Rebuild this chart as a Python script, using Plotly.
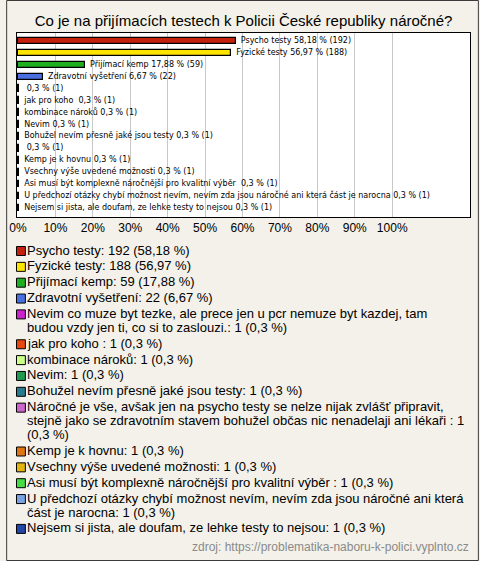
import plotly.graph_objects as go

# ---------------- data ----------------
title_text = "Co je na přijímacích testech k Policii České republiky náročné?"
bar_labels = [
    "Psycho testy", "Fyzické testy", "Přijímací kemp", "Zdravotní vyšetření", "",
    "jak pro koho ", "kombinace nároků", "Nevim", "Bohužel nevím přesně jaké jsou testy", "",
    "Kemp je k hovnu", "Vsechny výše uvedené možnosti",
    "Asi musí být komplexně náročnější pro kvalitní výběr ",
    "U předchozí otázky chybí možnost nevím, nevím zda jsou náročné ani která část je narocna",
    "Nejsem si jista, ale doufam, ze lehke testy to nejsou",
]
legend_names = [
    ["Psycho testy"], ["Fyzické testy"], ["Přijímací kemp"], ["Zdravotní vyšetření"],
    ["Nevim co muze byt tezke, ale prece jen u pcr nemuze byt kazdej, tam",
     "budou vzdy jen ti, co si to zaslouzi."],
    ["jak pro koho "], ["kombinace nároků"], ["Nevim"], ["Bohužel nevím přesně jaké jsou testy"],
    ["Náročné je vše, avšak jen na psycho testy se nelze nijak zvlášť připravit,",
     "stejně jako se zdravotním stavem bohužel občas nic nenadelaji ani lékaři : 1",
     "(0,3 %)"],
    ["Kemp je k hovnu"], ["Vsechny výše uvedené možnosti"],
    ["Asi musí být komplexně náročnější pro kvalitní výběr "],
    ["U předchozí otázky chybí možnost nevím, nevím zda jsou náročné ani která",
     "část je narocna"],
    ["Nejsem si jista, ale doufam, ze lehke testy to nejsou"],
]
counts = [192, 188, 59, 22, 1, 1, 1, 1, 1, 1, 1, 1, 1, 1, 1]
percents = [58.18, 56.97, 17.88, 6.67, 0.3, 0.3, 0.3, 0.3, 0.3, 0.3, 0.3, 0.3, 0.3, 0.3, 0.3]
colors = ["#c4200c", "#ffe400", "#1fae1f", "#4a70e0", "#cc22cc", "#e8480e", "#ccff88",
          "#1f9a50", "#287a8e", "#cc66cc", "#e07410", "#e2b412", "#44dd44", "#78a2e2", "#2446a8"]
tick_vals = [0, 10, 20, 30, 40, 50, 60, 70, 80, 90, 100]
tick_text = ["0%", "10%", "20%", "30%", "40%", "50%", "60%", "70%", "80%", "90%", "100%"]
source_text = "zdroj: https://problematika-naboru-k-polici.vyplnto.cz"

# ---------------- layout geometry ----------------
W, H = 480, 561
ML, MR, MT, MB = 11, 9, 33, 344
PW, PH = W - ML - MR, H - MT - MB


def px(x):
    return (x - ML) / PW


def py(y):
    return 1 - (y - MT) / PH


def fmt(p):
    return f"{p:g}".replace(".", ",")


rows = list(range(len(counts)))

fig = go.Figure()
fig.add_trace(go.Bar(
    x=percents, y=rows, orientation="h", width=0.55,
    marker=dict(color=colors, line=dict(color="#000000", width=1.2)),
    hoverinfo="skip", showlegend=False,
))
fig.add_trace(go.Scatter(
    x=percents, y=rows, mode="text",
    text=["  " + f"{l} {fmt(p)} % ({c})" for l, p, c in zip(bar_labels, percents, counts)],
    textposition="middle right",
    textfont=dict(family="DejaVu Sans", size=8, color="#000000"),
    hoverinfo="skip", showlegend=False, cliponaxis=False,
))

annotations = []
shapes = []
# legend (manual, wrapped)
G, L = 15.85, 14.0
y = 250.0
for i, (nm, c, p, col) in enumerate(zip(legend_names, counts, percents, colors)):
    lines = list(nm)
    if not lines[-1].startswith("("):
        lines[-1] = lines[-1] + f": {c} ({fmt(p)} %)"
    if i > 0:
        y += G
    shapes.append(dict(type="rect", xref="paper", yref="paper",
                       x0=px(10.5), x1=px(19.5), y0=py(y - 4.5 + 1), y1=py(y + 4.5 + 1),
                       fillcolor=col, line=dict(color="#000000", width=1), layer="above"))
    for k, ln in enumerate(lines):
        if k > 0:
            y += L
        annotations.append(dict(xref="paper", yref="paper", x=px(19.5), y=py(y),
                                xanchor="left", yanchor="middle", text=ln, showarrow=False,
                                font=dict(family="Liberation Sans", size=13, color="#000000")))

annotations.append(dict(xref="paper", yref="paper", x=px(472), y=py(547),
                        xanchor="right", yanchor="middle", text=source_text, showarrow=False,
                        font=dict(family="Liberation Sans", size=12, color="#8a8a8a")))

# outer frame
shapes.append(dict(type="rect", xref="paper", yref="paper",
                   x0=px(0.5), x1=px(W - 0.5), y0=py(H - 0.5), y1=py(0.5),
                   line=dict(color="#3a3a3a", width=1), fillcolor="rgba(0,0,0,0)", layer="above"))

x0 = -1 / 3.8
x1 = x0 + PW / 3.8
fig.update_layout(
    width=W, height=H,
    margin=dict(l=ML, r=MR, t=MT, b=MB, pad=0),
    paper_bgcolor="#f3f1e9", plot_bgcolor="#ffffff",
    title=dict(text=title_text, x=0.5, xanchor="center", xref="paper",
               y=1 - 21 / H, yref="container", yanchor="middle",
               font=dict(family="Liberation Sans", size=15, color="#000000")),
    xaxis=dict(range=[x0, x1], tickvals=tick_vals, ticktext=tick_text,
               showgrid=True, gridcolor="#c8c8c8", gridwidth=1, zeroline=False,
               showline=True, linecolor="#000000", linewidth=1, mirror=True,
               ticks="", ticklabelstandoff=0,
               tickfont=dict(family="Liberation Sans", size=12, color="#000000"), fixedrange=True),
    yaxis=dict(range=[14.75, -0.67], showticklabels=False, showgrid=False, zeroline=False,
               showline=True, linecolor="#000000", linewidth=1, mirror=True, ticks="",
               fixedrange=True),
    bargap=0, showlegend=False,
    annotations=annotations, shapes=shapes,
)

fig.write_html("out.html", config={"displayModeBar": False},
               post_script="document.body.style.margin='0';document.body.style.overflow='hidden';")
